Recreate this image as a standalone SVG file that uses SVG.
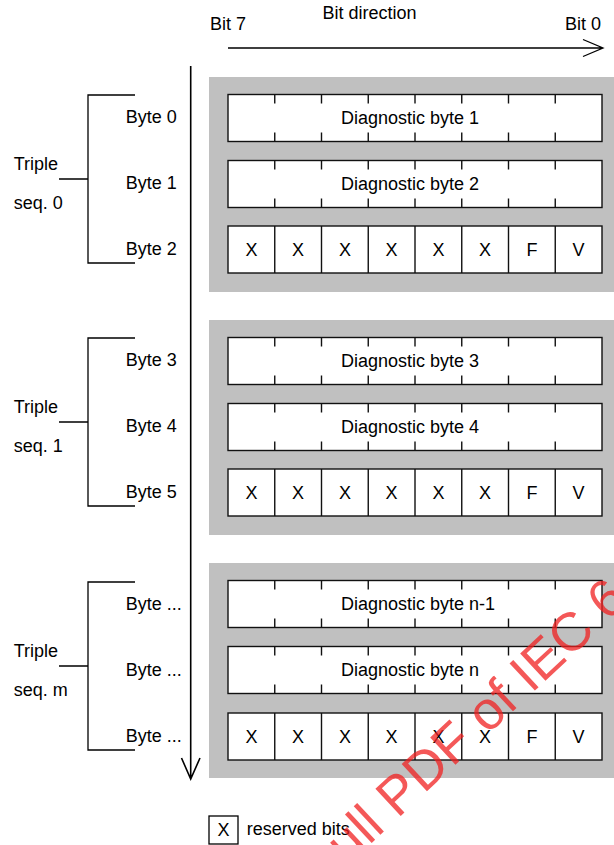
<svg xmlns="http://www.w3.org/2000/svg" width="614" height="845" viewBox="0 0 614 845">
<style>
text{font-family:"Liberation Sans",Arial,sans-serif;font-size:18px;fill:#000}
.blk{fill:#c0c0c0}
.row{fill:#fff;stroke:#111;stroke-width:1.4}
.tk{stroke:#111;stroke-width:1.4;fill:none}
.ln{stroke:#000;stroke-width:1.3;fill:none}
.c{text-anchor:middle}
.wm{font-size:54px;fill:#f02020;fill-opacity:0.75}
</style>
<defs>
<path id="ticks" class="tk" d="M274.75,0v9M321.5,0v9M368.25,0v9M415,0v9M461.75,0v9M508.5,0v9M555.25,0v9M274.75,38v9M321.5,38v9M368.25,38v9M415,38v9M461.75,38v9M508.5,38v9M555.25,38v9"/>
<g id="xrow">
<rect class="row" x="228" y="0" width="374" height="47"/>
<path class="tk" d="M274.75,0v47M321.5,0v47M368.25,0v47M415,0v47M461.75,0v47M508.5,0v47M555.25,0v47"/>
<text class="c" x="251.4" y="30">X</text>
<text class="c" x="298.1" y="30">X</text>
<text class="c" x="344.9" y="30">X</text>
<text class="c" x="391.6" y="30">X</text>
<text class="c" x="438.4" y="30">X</text>
<text class="c" x="485.1" y="30">X</text>
<text class="c" x="531.9" y="30">F</text>
<text class="c" x="578.6" y="30">V</text>
</g>
<path id="brk" class="ln" d="M135,95H88V263H135M59,179H88"/>
</defs>

<g id="header">
<text x="210" y="30">Bit 7</text>
<text x="322.5" y="18.5">Bit direction</text>
<text x="565" y="30">Bit 0</text>
</g>

<g id="seq0">
<rect class="blk" x="209" y="77" width="405" height="215"/>
<rect class="row" x="228" y="94.5" width="374" height="47"/>
<use href="#ticks" y="94.5"/>
<text x="341" y="124">Diagnostic byte 1</text>
<rect class="row" x="228" y="160.5" width="374" height="47"/>
<use href="#ticks" y="160.5"/>
<text x="341" y="190">Diagnostic byte 2</text>
<use href="#xrow" y="226"/>
<use href="#brk"/>
<text x="13.7" y="170">Triple</text>
<text x="13.7" y="209">seq. 0</text>
<text x="125.7" y="123">Byte 0</text>
<text x="125.7" y="189">Byte 1</text>
<text x="125.7" y="255">Byte 2</text>
</g>

<g id="seq1">
<rect class="blk" x="209" y="320" width="405" height="215"/>
<rect class="row" x="228" y="337.5" width="374" height="47"/>
<use href="#ticks" y="337.5"/>
<text x="341" y="367">Diagnostic byte 3</text>
<rect class="row" x="228" y="403.5" width="374" height="47"/>
<use href="#ticks" y="403.5"/>
<text x="341" y="433">Diagnostic byte 4</text>
<use href="#xrow" y="469"/>
<use href="#brk" y="243"/>
<text x="13.7" y="413">Triple</text>
<text x="13.7" y="452">seq. 1</text>
<text x="125.7" y="366">Byte 3</text>
<text x="125.7" y="432">Byte 4</text>
<text x="125.7" y="498">Byte 5</text>
</g>

<g id="seqm">
<rect class="blk" x="209" y="563" width="405" height="215"/>
<rect class="row" x="228" y="580.5" width="374" height="47"/>
<use href="#ticks" y="580.5"/>
<text x="341" y="610">Diagnostic byte n-1</text>
<rect class="row" x="228" y="646.5" width="374" height="47"/>
<use href="#ticks" y="646.5"/>
<text x="341" y="676">Diagnostic byte n</text>
<use href="#xrow" y="713"/>
<use href="#brk" y="487"/>
<text x="13.7" y="657">Triple</text>
<text x="13.7" y="696">seq. m</text>
<text x="125.7" y="610">Byte ...</text>
<text x="125.7" y="676">Byte ...</text>
<text x="125.7" y="742">Byte ...</text>
</g>

<g id="connectors">
<path class="ln" d="M228,48H603M583,39.5L603,48L583,56.5"/>
<path class="ln" style="stroke-width:1.6" d="M190.7,66V779M181.5,758L190.7,779L200,758"/>
</g>

<g id="legend">
<rect class="ln" x="209" y="816" width="29" height="28"/>
<text class="c" x="223.5" y="836">X</text>
<text x="246.7" y="835">reserved bits</text>
</g>

<g id="watermark">
<text class="wm" transform="translate(347,866) rotate(-43)">ull PDF of IEC 6</text>
</g>
</svg>
